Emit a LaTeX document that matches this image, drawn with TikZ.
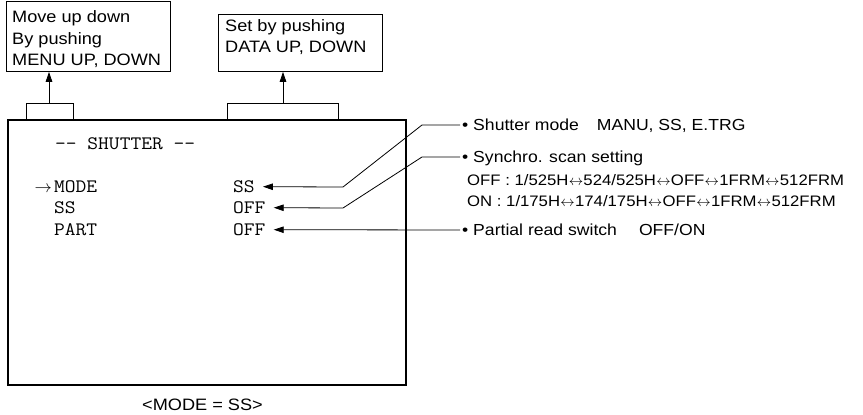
\documentclass[tikz,border=0pt]{standalone}
\usepackage{fontspec}
\setmainfont[FakeStretch=1.1]{Liberation Sans}
\newfontfamily\monofont[FakeStretch=1.1]{Latin Modern Mono}
\usetikzlibrary{arrows.meta}
\newcommand{\lra}{\kern0.3pt$\leftrightarrow$\kern0.3pt}
\tikzset{
  boxed/.style={draw, line width=0.8pt, inner sep=0, anchor=north west},
  conn/.style={line width=0.8pt, -{Triangle[length=10pt,width=6.5pt]}},
  thinline/.style={line width=0.8pt},
  boxtxt/.style={font=\fontsize{16.5}{18}\selectfont, anchor=base west, inner sep=0},
  labtxt/.style={font=\fontsize{16}{18}\selectfont, anchor=base west, inner sep=0},
  subtxt/.style={font=\fontsize{15.2}{17}\selectfont, anchor=base west, inner sep=0},
  monotxt/.style={font=\monofont\fontsize{19}{20}\selectfont, anchor=base west, inner sep=0}
}
\begin{document}
\begin{tikzpicture}[x=1pt,y=-1pt]
\useasboundingbox (0,0) rectangle (863,415);
% top boxes
\node[boxed, minimum width=164pt, minimum height=70pt] (b1) at (6,1) {};
\node[boxtxt] (b1a) at (12,23) {Move up down};
\node[boxtxt] (b1b) at (12,44) {By pushing};
\node[boxtxt] (b1c) at (12,65) {MENU UP, DOWN};
\node[boxed, minimum width=164pt, minimum height=57pt] (b2) at (218,14) {};
\node[boxtxt] (b2a) at (225,31) {Set by pushing};
\node[boxtxt] (b2b) at (225,52) {DATA UP, DOWN};
% screen
\node[boxed, line width=1.8pt, minimum width=398pt, minimum height=265pt] (scr) at (7,119) {};
\node[monotxt] (title) at (55,149.5) {-- SHUTTER --};
\node[font=\fontsize{18}{18}\selectfont, anchor=base east, inner sep=0] (cur) at (52,192) {$\rightarrow$};
\node[monotxt] (k1) at (54,192.5) {MODE};
\node[monotxt] (k2) at (54,213.5) {SS};
\node[monotxt] (k3) at (54,235.5) {PART};
\node[monotxt] (v1) at (233,192.5) {SS};
\node[monotxt] (v2) at (233,213.5) {OFF};
\node[monotxt] (v3) at (233,235.5) {OFF};
% brackets
\coordinate (br1) at (49,103);
\coordinate (br2) at (283,103);
\draw[thinline] (26,119) -- (26,103) -- (73,103) -- (73,119);
\draw[thinline] (227,119) -- (227,103) -- (338,103) -- (338,119);
\draw[conn] (br1) -- (br1 |- b1.south);
\draw[conn] (br2) -- (br2 |- b2.south);
% right labels
\coordinate (p1) at (460,125);
\coordinate (p2) at (460,157);
\coordinate (p3) at (460,230);
\node[labtxt] (l1) at (462,130.5) {•\ Shutter mode\hspace{18pt}MANU, SS, E.TRG};
\node[labtxt] (l2) at (462,162.5) {•\ Synchro. scan setting};
\node[subtxt] (l2a) at (467,185) {OFF : 1/525H\lra524/525H\lra OFF\lra1FRM\lra512FRM};
\node[subtxt] (l2b) at (467,206) {ON : 1/175H\lra174/175H\lra OFF\lra1FRM\lra512FRM};
\node[labtxt] (l3) at (462,235.5) {•\ Partial read switch\hspace{22pt}OFF/ON};
\draw[conn] (p1) -- (422,125) -- (343,187) -- ([xshift=8pt]v1.east);
\draw[conn] (p2) -- (422,157) -- (343,208) -- ([xshift=8pt]v2.east);
\draw[conn] (p3) -- ([xshift=8pt]v3.east);
% caption
\node[font=\fontsize{16.5}{18}\selectfont, anchor=base west, inner sep=0] (cap) at (142,410) {<MODE = SS>};
\end{tikzpicture}
\end{document}
